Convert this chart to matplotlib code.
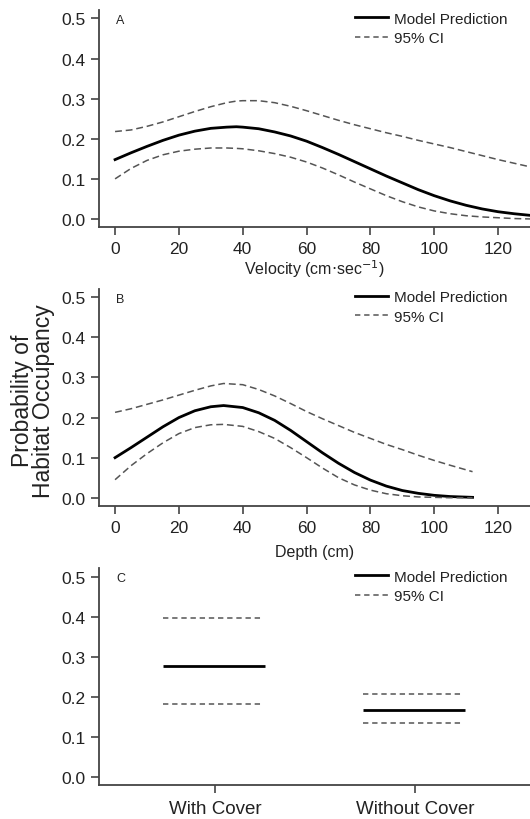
import numpy as np
import matplotlib.pyplot as plt
from matplotlib.lines import Line2D

plt.rcParams['font.family'] = ['Liberation Sans', 'DejaVu Sans']

# Panel A: velocity (cm/sec)
vel = [0, 5, 10, 15, 20, 25, 30, 35, 38, 40, 45, 50, 55, 60, 65, 70, 75, 80, 85, 90, 95, 100, 105, 110, 115, 120, 125, 130]
vel_pred = [0.148, 0.165, 0.181, 0.196, 0.209, 0.219, 0.226, 0.229, 0.230, 0.229, 0.225, 0.217, 0.207, 0.194, 0.178, 0.161, 0.143, 0.125, 0.107, 0.090, 0.073, 0.058, 0.045, 0.034, 0.025, 0.018, 0.013, 0.009]
vel_hi = [0.218, 0.222, 0.231, 0.242, 0.255, 0.268, 0.280, 0.290, 0.294, 0.295, 0.295, 0.290, 0.281, 0.270, 0.258, 0.246, 0.235, 0.225, 0.215, 0.206, 0.196, 0.187, 0.178, 0.168, 0.158, 0.148, 0.139, 0.130]
vel_lo = [0.100, 0.126, 0.146, 0.160, 0.169, 0.174, 0.177, 0.177, 0.176, 0.175, 0.170, 0.163, 0.154, 0.142, 0.127, 0.110, 0.092, 0.075, 0.058, 0.043, 0.030, 0.020, 0.013, 0.008, 0.005, 0.003, 0.001, 0.000]

# Panel B: depth (cm)
dep = [0, 5, 10, 15, 20, 25, 30, 34, 40, 45, 50, 55, 60, 65, 70, 75, 80, 85, 90, 95, 100, 105, 112]
dep_pred = [0.100, 0.125, 0.151, 0.177, 0.200, 0.217, 0.227, 0.230, 0.225, 0.212, 0.193, 0.168, 0.140, 0.112, 0.086, 0.063, 0.044, 0.029, 0.018, 0.011, 0.006, 0.003, 0.001]
dep_hi = [0.213, 0.222, 0.233, 0.244, 0.256, 0.268, 0.279, 0.285, 0.282, 0.270, 0.254, 0.235, 0.215, 0.197, 0.180, 0.163, 0.148, 0.133, 0.120, 0.106, 0.093, 0.081, 0.065]
dep_lo = [0.045, 0.080, 0.110, 0.137, 0.160, 0.175, 0.182, 0.183, 0.178, 0.165, 0.148, 0.125, 0.100, 0.074, 0.050, 0.032, 0.019, 0.010, 0.005, 0.002, 0.001, 0.000, 0.000]

# Panel C: cover
cover = ['With Cover', 'Without Cover']
cover_pred = [0.277, 0.168]
cover_hi = [0.397, 0.208]
cover_lo = [0.182, 0.135]

fig = plt.figure(figsize=(5.3, 8.2), dpi=100)
txt = '#222222'
dash_c = '#555555'

def style(ax):
    for s in ['top', 'right']:
        ax.spines[s].set_visible(False)
    for s in ['left', 'bottom']:
        ax.spines[s].set_linewidth(1.3)
        ax.spines[s].set_color('#444444')
    ax.tick_params(direction='out', length=6, width=1.2, color='#444444',
                   labelsize=12.5, labelcolor=txt, pad=4)
    ax.set_ylim(-0.02, 0.52)
    ax.set_yticks([0.0, 0.1, 0.2, 0.3, 0.4, 0.5])
    ax.set_yticklabels(['0.0', '0.1', '0.2', '0.3', '0.4', '0.5'])

def legend(ax):
    handles = [Line2D([], [], color='black', lw=2.0),
               Line2D([], [], color=dash_c, lw=1.1, dashes=(3.5, 2.5))]
    ax.legend(handles, ['Model Prediction', '95% CI'], loc='upper left',
              bbox_to_anchor=(0.595, 0.995), frameon=False, fontsize=11,
              handlelength=2.1, handletextpad=0.45, labelspacing=0.35,
              borderpad=0, borderaxespad=0, labelcolor=txt)

h = 0.264
axA = fig.add_axes([0.187, 0.722, 0.813, h])
axB = fig.add_axes([0.187, 0.382, 0.813, h])
axC = fig.add_axes([0.187, 0.0415, 0.813, h])

for ax, x, p, hi, lo in [(axA, vel, vel_pred, vel_hi, vel_lo),
                         (axB, dep, dep_pred, dep_hi, dep_lo)]:
    ax.plot(x, p, color='black', lw=2.0)
    ax.plot(x, hi, color=dash_c, lw=1.1, dashes=(4.5, 2.5))
    ax.plot(x, lo, color=dash_c, lw=1.1, dashes=(4.5, 2.5))
    ax.set_xlim(-5, 130)
    ax.set_xticks([0, 20, 40, 60, 80, 100, 120])
    style(ax)
    legend(ax)

axA.set_xlabel('Velocity (cm$\\cdot$sec$^{-1}$)', fontsize=11.5, color=txt, labelpad=1)
axB.set_xlabel('Depth (cm)', fontsize=11.5, color=txt, labelpad=7)

xc = np.arange(1, len(cover) + 1)
axC.hlines(cover_pred, xc - 0.26, xc + 0.25, color='black', lw=2.0)
axC.hlines(cover_hi, xc - 0.26, xc + 0.23, color=dash_c, lw=1.1, linestyles=(0, (3.5, 2.5)))
axC.hlines(cover_lo, xc - 0.26, xc + 0.23, color=dash_c, lw=1.1, linestyles=(0, (3.5, 2.5)))
axC.set_xlim(0.42, 2.575)
axC.set_xticks(xc)
style(axC)
axC.set_xticklabels(cover, fontsize=13.5, color=txt)
axC.tick_params(axis='x', pad=5)
legend(axC)

for ax, lab in [(axA, 'A'), (axB, 'B'), (axC, 'C')]:
    ax.text(0.04, 0.985, lab, transform=ax.transAxes, fontsize=9, color=txt,
            va='top', ha='left')

fig.text(0.063, 0.511, 'Probability of\nHabitat Occupancy', rotation=90,
         ha='center', va='center', fontsize=16.5, color=txt, linespacing=0.9)

fig.savefig('out.png', dpi=100)
